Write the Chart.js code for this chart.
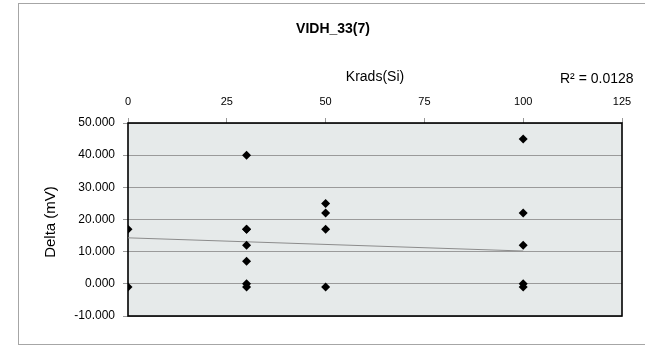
<!DOCTYPE html>
<html>
<head>
<meta charset="utf-8">
<script src="https://cdn.jsdelivr.net/npm/chart.js@4/dist/chart.umd.min.js"></script>
<style>
html,body{margin:0;padding:0;background:#fff;}
#wrap{width:645px;height:346px;}
</style>
</head>
<body>
<div id="wrap"><canvas id="c" width="645" height="346"></canvas></div>
<script>
// Data
const doseX  = [0, 0, 30, 30, 30, 30, 30, 30, 30, 50, 50, 50, 50, 100, 100, 100, 100, 100];
const deltaY = [17, -1, 40, 17, 17, 12, 7, 0, -1, 25, 22, 17, -1, 45, 22, 12, 0, -1];
const trendX = [0, 100];
const trendY = [14.3, 10.2];
const xTicks = [0, 25, 50, 75, 100, 125];
const yTicks = [-10, 0, 10, 20, 30, 40, 50];
const chartTitle = 'VIDH_33(7)';
const xTitle = 'Krads(Si)';
const yTitle = 'Delta (mV)';
const r2Label = 'R\u00B2 = 0.0128';

const FONT = '"Liberation Sans", Arial, sans-serif';

const decor = {
  id: 'decor',
  beforeDraw(chart) {
    const ctx = chart.ctx;
    const a = chart.chartArea;
    ctx.save();
    ctx.fillStyle = '#ffffff';
    ctx.fillRect(0, 0, chart.width, chart.height);
    ctx.strokeStyle = '#a6a6a6';
    ctx.lineWidth = 1;
    ctx.strokeRect(18.5, 3.5, 640, 341);
    ctx.fillStyle = '#e6eaea';
    ctx.fillRect(a.left, a.top, a.right - a.left, a.bottom - a.top);
    ctx.restore();
  },
  beforeDatasetsDraw(chart) {
    const ctx = chart.ctx;
    const a = chart.chartArea;
    ctx.save();
    ctx.strokeStyle = '#000';
    ctx.lineWidth = 1.6;
    ctx.strokeRect(a.left, a.top, a.right - a.left, a.bottom - a.top);
    ctx.restore();
  },
  afterDraw(chart) {
    const ctx = chart.ctx;
    const a = chart.chartArea;
    ctx.save();
    ctx.fillStyle = '#000';
    ctx.textBaseline = 'middle';
    ctx.textAlign = 'center';
    ctx.font = 'bold 14px ' + FONT;
    ctx.fillText(chartTitle, 333, 29);
    ctx.font = '14px ' + FONT;
    ctx.fillText(xTitle, (a.left + a.right) / 2, 77);
    ctx.textAlign = 'left';
    ctx.fillText(r2Label, 560, 79);
    ctx.font = '15px ' + FONT;
    ctx.translate(51, 222);
    ctx.rotate(-Math.PI / 2);
    ctx.textAlign = 'center';
    ctx.fillText(yTitle, 0, 0);
    ctx.restore();
  }
};

new Chart(document.getElementById('c'), {
  type: 'scatter',
  data: {
    datasets: [
      {
        label: 'Delta',
        data: doseX.map((x, i) => ({ x: x, y: deltaY[i] })),
        pointStyle: 'rectRot',
        pointRadius: 4.5,
        pointHoverRadius: 4.5,
        backgroundColor: '#000',
        borderColor: '#000',
        borderWidth: 0
      },
      {
        label: 'Trend',
        type: 'line',
        data: trendX.map((x, i) => ({ x: x, y: trendY[i] })),
        showLine: true,
        pointRadius: 0,
        borderColor: '#8c8c8c',
        borderWidth: 1,
        fill: false
      }
    ]
  },
  options: {
    responsive: false,
    animation: false,
    devicePixelRatio: 1,
    layout: { padding: { left: 0, top: 0, right: 23, bottom: 30 } },
    plugins: {
      legend: { display: false },
      title: { display: false },
      tooltip: { enabled: false }
    },
    scales: {
      x: {
        type: 'linear',
        position: 'top',
        min: xTicks[0],
        max: xTicks[xTicks.length - 1],
        afterBuildTicks: s => { s.ticks = xTicks.map(v => ({ value: v })); },
        afterFit: s => { s.height = 123; },
        border: { display: false },
        grid: { drawOnChartArea: false, drawTicks: true, tickLength: 5, color: '#999' },
        ticks: { color: '#000', font: { family: FONT, size: 11 }, padding: 9, maxRotation: 0 }
      },
      y: {
        type: 'linear',
        min: yTicks[0],
        max: yTicks[yTicks.length - 1],
        afterBuildTicks: s => { s.ticks = yTicks.map(v => ({ value: v })); },
        afterFit: s => { s.width = 128; },
        border: { display: false },
        grid: { drawOnChartArea: true, drawTicks: true, tickLength: 5, color: '#9a9a9a' },
        ticks: { color: '#000', font: { family: FONT, size: 12 }, padding: 8, callback: v => v.toFixed(3) }
      }
    }
  },
  plugins: [decor]
});
</script>
</body>
</html>
